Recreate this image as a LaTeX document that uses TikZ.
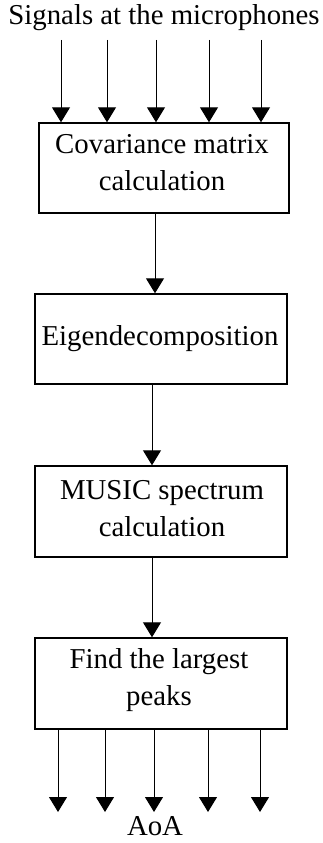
\documentclass[tikz,border=0pt]{standalone}
\usepackage{fontspec}
\setmainfont{Liberation Serif}
\usetikzlibrary{arrows.meta,calc}
\begin{document}
\begin{tikzpicture}[x=1pt,y=-1pt,
  every node/.style={font=\fontsize{28.8}{36.5}\selectfont},
  procbox/.style={draw,line width=1.4pt,minimum width=252pt,minimum height=90pt,inner sep=0pt},
  boxtext/.style={align=center,inner sep=0pt},
  flow/.style={line width=1pt,-{Triangle[width=18pt,length=15pt]}}]
\useasboundingbox (0,0) rectangle (322,843);
\node[anchor=base] (title) at (164,25) {Signals at the microphones};
\node[procbox,minimum width=250pt] (cov) at (164,168) {};
\node[boxtext] (covt) at (162,162.5) {Covariance matrix\\calculation};
\node[procbox] (eig) at (161,339) {};
\node[boxtext] (eigt) at (160,339) {Eigendecomposition};
\node[procbox,minimum height=91pt] (mus) at (161,511.5) {};
\node[boxtext] (must) at (162,508.5) {MUSIC spectrum\\calculation};
\node[procbox,minimum height=91pt] (peak) at (161,683.5) {};
\node[boxtext] (peakt) at (159,680.2) {Find the largest\\peaks};
\node[anchor=base] (aoa) at (155,835) {AoA};
\foreach \i/\x in {1/61,2/107,3/156,4/209,5/261}{
  \coordinate (in\i) at (\x,40);
  \draw[flow] (in\i) -- (in\i |- cov.north);
}
\foreach \i/\x in {1/58,2/105,3/154,4/208,5/260}{
  \coordinate (out\i) at (\x,812);
  \draw[flow] (out\i |- peak.south) -- (out\i);
}
\draw[flow] (cov.south -| 155,0) -- (eig.north -| 155,0);
\draw[flow] (eig.south -| 152,0) -- (mus.north -| 152,0);
\draw[flow] (mus.south -| 152,0) -- (peak.north -| 152,0);
\end{tikzpicture}
\end{document}
